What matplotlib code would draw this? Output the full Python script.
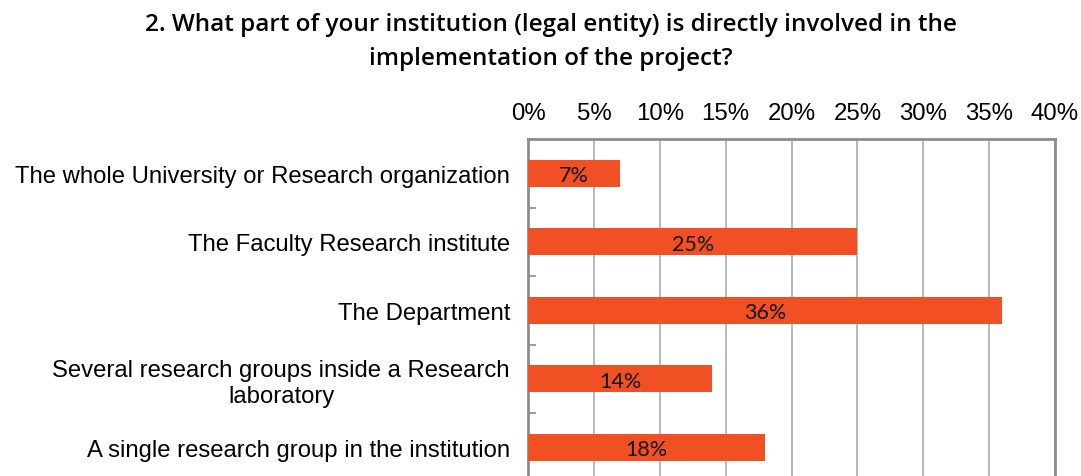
import matplotlib
matplotlib.use("Agg")
import matplotlib.pyplot as plt
from matplotlib.ticker import FixedLocator, FuncFormatter

title = "2. What part of your institution (legal entity) is directly involved in the\nimplementation of the project?"
categories = [
    "The whole University or Research organization",
    "The Faculty Research institute",
    "The Department",
    "Several research groups inside a Research\nlaboratory",
    "A single research group in the institution",
]
values = [7, 25, 36, 14, 18]
xticks = [0, 5, 10, 15, 20, 25, 30, 35, 40]

W, H = 1081, 477
fig = plt.figure(figsize=(W / 100, H / 100), dpi=100)
ax = fig.add_axes([528 / W, 1 - 482.5 / H, 527 / W, 342.5 / H])

ypos = list(range(len(categories)))
ax.barh(ypos, values, height=0.39, color="#F05023", zorder=3)
ax.set_xlim(0, 40)
ax.set_ylim(len(categories) - 0.5, -0.5)

for y, v in zip(ypos, values):
    ax.text(v / 2, y + 0.03, f"{v}%", ha="center", va="center", fontsize=15.5,
            family="Lato", color="#111111", zorder=4)

ax.xaxis.set_major_locator(FixedLocator(xticks))
ax.xaxis.set_major_formatter(FuncFormatter(lambda x, p: f"{int(x)}%"))
ax.xaxis.tick_top()
ax.tick_params(axis="x", length=0, pad=11, labelsize=17.3)
for lab in ax.get_xticklabels():
    lab.set_family("Liberation Sans")
ax.grid(axis="x", color="#ababab", linewidth=1.2, zorder=0)

ax.set_yticks(ypos)
ax.set_yticklabels(categories, family="Liberation Sans", fontsize=17.2,
                   multialignment="center")
ax.tick_params(axis="y", which="major", length=0, pad=13)
ax.yaxis.set_minor_locator(FixedLocator([0.5, 1.5, 2.5, 3.5]))
ax.tick_params(axis="y", which="minor", direction="in", length=6,
               width=1.2, color="#8c8c8c")

for s in ax.spines.values():
    s.set_color("#8c8c8c")
    s.set_linewidth(2)
ax.spines["bottom"].set_visible(False)

fig.text(551 / W, 1 - 42 / H, title, ha="center", va="center",
         fontsize=17.5, family="Open Sans", weight="semibold",
         linespacing=1.6)

fig.savefig("out.png", dpi=100)
